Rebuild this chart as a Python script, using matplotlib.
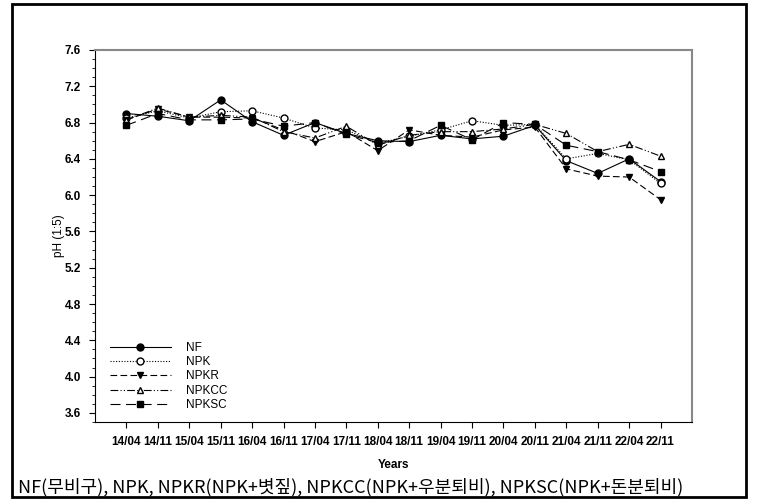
import matplotlib
matplotlib.use('Agg')
import matplotlib.pyplot as plt
from matplotlib.patches import Rectangle
from matplotlib.ticker import MultipleLocator

plt.rcParams['font.family'] = ['Liberation Sans', 'DejaVu Sans']

years = ['14/04', '14/11', '15/04', '15/11', '16/04', '16/11', '17/04', '17/11', '18/04',
         '18/11', '19/04', '19/11', '20/04', '20/11', '21/04', '21/11', '22/04', '22/11']

nf = [6.90, 6.87, 6.82, 7.05, 6.81, 6.66, 6.80, 6.68, 6.60, 6.59, 6.66, 6.62, 6.65, 6.77, 6.38, 6.24, 6.40, 6.15]
npk = [6.85, 6.93, 6.85, 6.92, 6.93, 6.85, 6.74, 6.72, 6.57, 6.65, 6.72, 6.82, 6.77, 6.78, 6.40, 6.46, 6.39, 6.13]
npkr = [6.83, 6.95, 6.86, 6.86, 6.85, 6.72, 6.59, 6.70, 6.49, 6.72, 6.66, 6.64, 6.72, 6.75, 6.29, 6.21, 6.20, 5.95]
npkcc = [6.83, 6.96, 6.86, 6.88, 6.86, 6.70, 6.63, 6.76, 6.55, 6.66, 6.70, 6.70, 6.73, 6.78, 6.68, 6.48, 6.56, 6.43]
npksc = [6.77, 6.90, 6.83, 6.83, 6.84, 6.76, 6.80, 6.67, 6.58, 6.60, 6.77, 6.61, 6.80, 6.78, 6.55, 6.48, 6.39, 6.26]

caption = 'NF(무비구), NPK, NPKR(NPK+볏짚), NPKCC(NPK+우분퇴비), NPKSC(NPK+돈분퇴비)'

fig = plt.figure(figsize=(7.6, 4.99), dpi=100)
ax = fig.add_axes([0.125, 0.1543, 0.7855, 0.7455])

x = list(range(len(years)))
lw = 0.8
ms = 5
ax.plot(x, nf, color='black', lw=lw, ls='-', marker='o', ms=ms, mfc='black', label='NF')
ax.plot(x, npk, color='black', lw=lw, ls=(0, (1, 1.5)), marker='o', ms=ms, mfc='white', label='NPK')
ax.plot(x, npkr, color='black', lw=lw, ls=(0, (6, 3)), marker='v', ms=ms, mfc='black', label='NPKR')
ax.plot(x, npkcc, color='black', lw=lw, ls=(0, (7, 2, 1, 2, 1, 2)), marker='^', ms=ms, mfc='white', label='NPKCC')
ax.plot(x, npksc, color='black', lw=lw, ls=(0, (9, 5)), marker='s', ms=ms - 0.5, mfc='black', label='NPKSC')

ax.set_xlim(-1, 18)
ax.set_ylim(3.5, 7.6)
ax.set_xticks(x)
ax.set_xticklabels(years, fontweight='bold', fontsize=8.5)
ax.yaxis.set_minor_locator(MultipleLocator(0.1))
ax.set_yticks([3.6 + 0.4 * i for i in range(11)])
ax.set_yticklabels(['%.1f' % (3.6 + 0.4 * i) for i in range(11)], fontweight='bold', fontsize=8.5)
ax.tick_params(axis='both', which='major', direction='out', length=4, width=0.8, pad=6)
ax.tick_params(axis='y', which='minor', direction='out', length=2.5, width=0.6)

for side in ['top', 'right']:
    ax.spines[side].set_color('#888888')
    ax.spines[side].set_linewidth(1.5)
for side in ['left', 'bottom']:
    ax.spines[side].set_color('black')
    ax.spines[side].set_linewidth(0.8)

ax.set_xlabel('Years', fontweight='bold', fontsize=8.5, labelpad=8)
ax.set_ylabel('pH (1:5)', fontsize=8.5, labelpad=0)

ax.legend(loc='upper left', bbox_to_anchor=(105 / 760, 1 - 337 / 499), bbox_transform=fig.transFigure,
          frameon=False, fontsize=8.5, handlelength=5.2, handletextpad=1.3, labelspacing=0.2,
          borderaxespad=0)

fig.text(18 / 760, 1 - 487 / 499, caption, fontsize=13, va='center', ha='left',
         family=['Noto Sans CJK KR', 'DejaVu Sans'])

fig.patches.append(Rectangle((12 / 760, 1 - 497 / 499), 734 / 760, 493 / 499, transform=fig.transFigure,
                             fill=False, edgecolor='black', linewidth=2))

fig.savefig('out.png', dpi=100)
